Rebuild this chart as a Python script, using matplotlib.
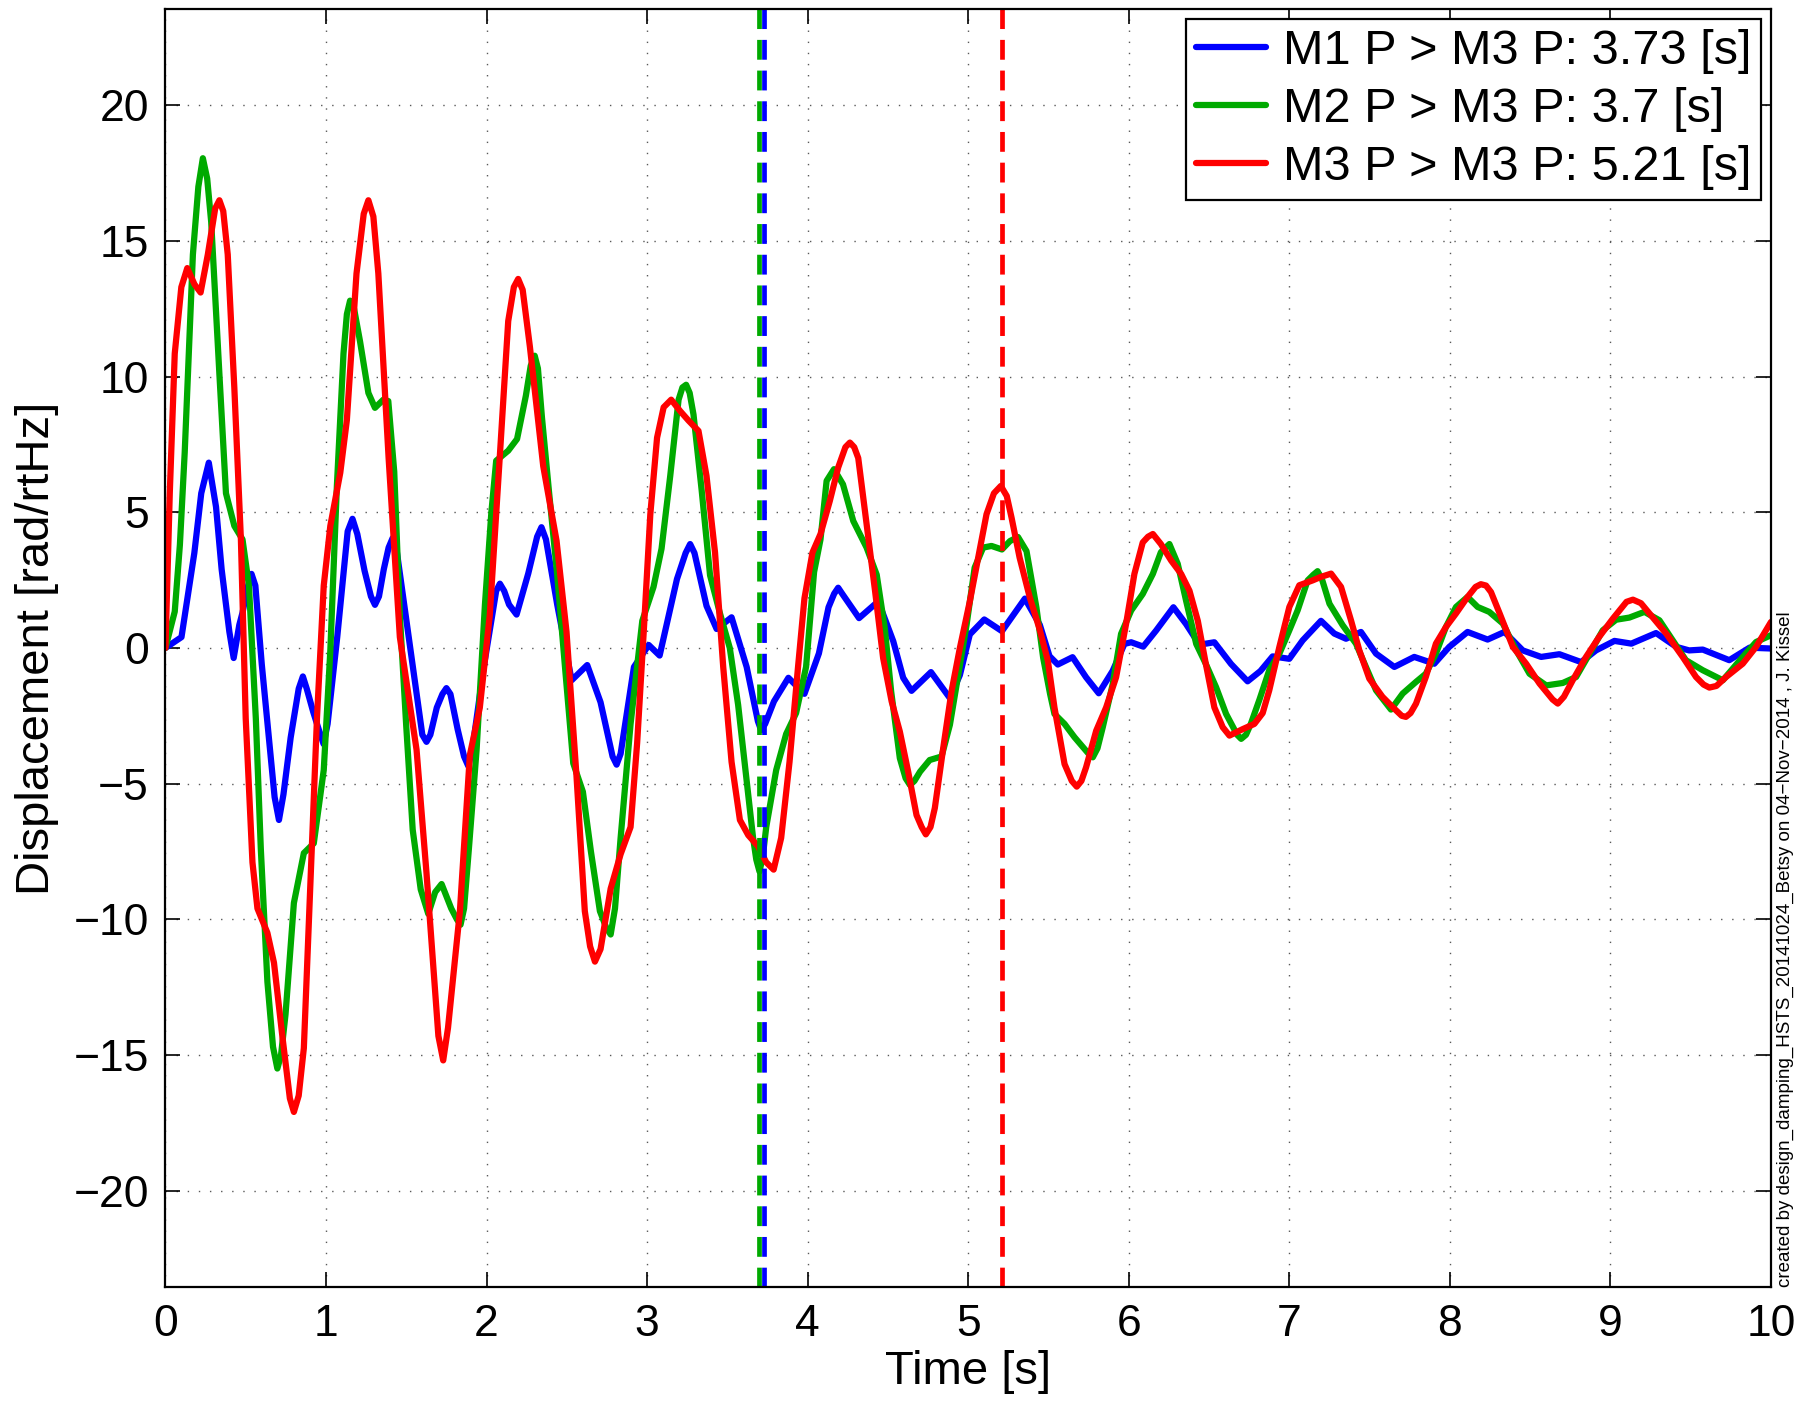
import matplotlib
matplotlib.use('Agg')
import matplotlib.pyplot as plt

plt.rcParams['font.family'] = ['Liberation Sans', 'DejaVu Sans']

OUTPUT_FILE = 'out.png'

# M1 P > M3 P  (blue)
T_M1 = [0, 0.1, 0.18, 0.223, 0.27, 0.315, 0.35, 0.398, 0.425, 0.46, 0.48, 0.51, 0.536, 0.56,
        0.6, 0.68, 0.707, 0.735, 0.78, 0.83, 0.856, 0.88, 0.92, 0.96, 0.985, 1.01, 1.07,
        1.135, 1.165, 1.195, 1.24, 1.28, 1.305, 1.33, 1.36, 1.39, 1.415, 1.44, 1.52, 1.6,
        1.626, 1.65, 1.69, 1.725, 1.75, 1.775, 1.82, 1.86, 1.886, 1.91, 1.98, 2.06, 2.083,
        2.11, 2.14, 2.187, 2.26, 2.315, 2.342, 2.37, 2.44, 2.53, 2.627, 2.71, 2.785, 2.81,
        2.835, 2.918, 3.01, 3.078, 3.186, 3.24, 3.268, 3.295, 3.37, 3.433, 3.526, 3.62,
        3.69, 3.71, 3.735, 3.79, 3.88, 3.98, 4.07, 4.13, 4.165, 4.19, 4.215, 4.32, 4.44,
        4.533, 4.595, 4.647, 4.768, 4.886, 4.948, 5.01, 5.1, 5.21, 5.353, 5.446, 5.506,
        5.558, 5.65, 5.734, 5.813, 5.9, 5.973, 6.015, 6.09, 6.17, 6.278, 6.357, 6.44, 6.533,
        6.637, 6.74, 6.82, 6.896, 7.0, 7.083, 7.197, 7.28, 7.353, 7.446, 7.54, 7.654, 7.778,
        7.903, 7.996, 8.11, 8.235, 8.34, 8.454, 8.568, 8.682, 8.817, 8.91, 9.025, 9.13,
        9.284, 9.41, 9.49, 9.575, 9.74, 9.866, 10.0]
DISP_M1 = [0, 0.4, 3.5, 5.7, 6.83, 5.2, 2.9, 0.6, -0.37, 0.85, 1.3, 2.2, 2.73, 2.3,
           -0.6, -5.5, -6.34, -5.4, -3.3, -1.5, -1.05, -1.5, -2.35, -3.1, -3.54, -2.8, 0.4,
           4.3, 4.76, 4.2, 2.85, 1.9, 1.59, 1.9, 2.9, 3.7, 4.05, 3.6, 0.2, -3.2,
           -3.46, -3.2, -2.2, -1.7, -1.48, -1.7, -3.0, -4.0, -4.35, -3.8, -0.8, 2.1, 2.37,
           2.1, 1.6, 1.23, 2.75, 4.1, 4.45, 4.0, 1.6, -1.19, -0.63, -2.0, -4.0, -4.3,
           -3.9, -0.7, 0.11, -0.28, 2.54, 3.5, 3.83, 3.5, 1.55, 0.7, 1.13, -0.7,
           -2.7, -3.03, -2.8, -1.97, -1.1, -1.69, -0.2, 1.5, 2.0, 2.22, 2.0, 1.1, 1.72,
           0.25, -1.1, -1.58, -0.89, -1.85, -1.0, 0.5, 1.05, 0.62, 1.82, 0.85, -0.3,
           -0.61, -0.34, -1.08, -1.67, -0.84, 0.15, 0.21, 0.05, 0.64, 1.5, 0.88, 0.12, 0.21,
           -0.59, -1.23, -0.85, -0.31, -0.4, 0.28, 1.0, 0.53, 0.34, 0.59, -0.21, -0.7, -0.33,
           -0.58, 0.04, 0.59, 0.31, 0.59, -0.09, -0.33, -0.23, -0.52, -0.09, 0.26, 0.16,
           0.55, 0.04, -0.09, -0.06, -0.45, 0.01, -0.02]

# M2 P > M3 P  (green)
T_M2 = [0, 0.058, 0.09, 0.12, 0.171, 0.205, 0.233, 0.26, 0.285, 0.336, 0.377, 0.429, 0.48,
        0.52, 0.563, 0.594, 0.635, 0.67, 0.697, 0.72, 0.748, 0.8, 0.862, 0.924, 0.986, 1.027,
        1.068, 1.109, 1.13, 1.15, 1.175, 1.212, 1.264, 1.305, 1.357, 1.388, 1.425, 1.46,
        1.5, 1.54, 1.59, 1.637, 1.68, 1.72, 1.78, 1.815, 1.838, 1.86, 1.89, 1.938, 1.99,
        2.03, 2.06, 2.135, 2.19, 2.245, 2.275, 2.3, 2.32, 2.345, 2.39, 2.44, 2.49, 2.54,
        2.6, 2.65, 2.706, 2.745, 2.773, 2.8, 2.835, 2.897, 2.97, 3.04, 3.09, 3.144, 3.196,
        3.22, 3.243, 3.265, 3.289, 3.34, 3.392, 3.454, 3.515, 3.567, 3.62, 3.66, 3.68, 3.7,
        3.72, 3.742, 3.804, 3.866, 3.928, 3.99, 4.04, 4.08, 4.118, 4.164, 4.22, 4.284,
        4.367, 4.43, 4.48, 4.52, 4.574, 4.61, 4.637, 4.665, 4.7, 4.76, 4.834, 4.886, 4.938,
        4.99, 5.04, 5.093, 5.145, 5.21, 5.26, 5.31, 5.363, 5.425, 5.467, 5.51, 5.537, 5.6,
        5.662, 5.75, 5.776, 5.805, 5.838, 5.9, 5.952, 6.015, 6.087, 6.15, 6.2, 6.253, 6.305,
        6.357, 6.42, 6.48, 6.544, 6.606, 6.675, 6.7, 6.73, 6.76, 6.814, 6.876, 6.938, 7.0,
        7.052, 7.114, 7.15, 7.176, 7.205, 7.25, 7.332, 7.415, 7.477, 7.54, 7.633, 7.706,
        7.789, 7.85, 7.913, 7.975, 8.038, 8.11, 8.173, 8.245, 8.33, 8.413, 8.496, 8.6,
        8.703, 8.786, 8.87, 8.952, 9.035, 9.118, 9.212, 9.305, 9.388, 9.47, 9.575, 9.7,
        9.824, 9.907, 10.0]
DISP_M2 = [0, 1.34, 3.8, 7.2, 14.5, 17.0, 18.05, 17.3, 15.7, 10.1, 5.7, 4.5, 4.0,
           2.3, -2.6, -7.4, -12.3, -14.7, -15.5, -15.0, -13.5, -9.4, -7.56, -7.2, -4.5, -0.1,
           6.0, 10.85, 12.3, 12.8, 12.5, 11.3, 9.4, 8.85, 9.15, 9.1, 6.5, 1.2,
           -2.9, -6.7, -8.9, -9.8, -9.0, -8.7, -9.6, -10.0, -10.2, -9.6, -7.4, -3.75, 1.6,
           5.0, 6.9, 7.27, 7.7, 9.3, 10.4, 10.77, 10.3, 8.5, 5.7, 2.7, -0.8, -4.25,
           -5.3, -7.5, -9.7, -10.3, -10.56, -9.6, -7.0, -2.8, 1.0, 2.25, 3.66, 6.34, 9.15,
           9.6, 9.7, 9.4, 8.6, 5.8, 2.68, 1.27, 0.0, -2.1, -4.9, -7.0, -7.8, -8.24,
           -7.7, -6.6, -4.5, -3.17, -2.4, -0.7, 2.8, 4.0, 6.16, 6.59, 6.03, 4.68,
           3.7, 2.7, 0.74, -1.6, -4.06, -4.8, -5.05, -4.9, -4.56, -4.13, -4.0, -2.83, -0.98,
           0.86, 2.96, 3.7, 3.76, 3.63, 3.94, 4.09, 3.57, 1.48, -0.37, -1.7, -2.43, -2.8,
           -3.29, -3.9, -4.03, -3.7, -2.92, -1.33, 0.52, 1.38, 1.99, 2.73, 3.53, 3.83, 3.1,
           1.74, 0.15, -0.59, -1.45, -2.43, -3.2, -3.35, -3.2, -2.8, -1.9, -0.8, -0.21, 0.65,
           1.39, 2.49, 2.7, 2.83, 2.5, 1.63, 0.84, 0.16, -0.7, -1.56, -2.27, -1.68,
           -1.25, -0.95, -0.21, 0.77, 1.51, 1.88, 1.51, 1.33, 0.9, -0.09, -0.95, -1.38,
           -1.29, -1.07, -0.21, 0.65, 1.04, 1.12, 1.33, 1.02, 0.28, -0.45, -0.82, -1.19,
           -0.33, 0.22, 0.47]

# M3 P > M3 P  (red)
T_M3 = [0, 0.027, 0.058, 0.099, 0.136, 0.181, 0.219, 0.264, 0.31, 0.336, 0.36, 0.388, 0.429,
        0.47, 0.5, 0.542, 0.573, 0.635, 0.676, 0.728, 0.775, 0.8, 0.83, 0.862, 0.903, 0.944,
        0.986, 1.027, 1.089, 1.13, 1.19, 1.235, 1.264, 1.295, 1.326, 1.39, 1.46, 1.5, 1.564,
        1.626, 1.7, 1.73, 1.76, 1.834, 1.896, 1.958, 2.02, 2.083, 2.135, 2.17, 2.197, 2.225,
        2.27, 2.353, 2.436, 2.498, 2.56, 2.612, 2.645, 2.675, 2.71, 2.773, 2.835, 2.897,
        2.938, 2.98, 3.02, 3.062, 3.103, 3.15, 3.206, 3.258, 3.32, 3.37, 3.423, 3.474,
        3.526, 3.578, 3.63, 3.69, 3.742, 3.788, 3.835, 3.887, 3.94, 3.98, 4.03, 4.08, 4.138,
        4.19, 4.235, 4.263, 4.29, 4.315, 4.367, 4.42, 4.47, 4.523, 4.574, 4.626, 4.678, 4.71,
        4.736, 4.765, 4.792, 4.844, 4.896, 4.948, 5.01, 5.062, 5.114, 5.16, 5.203, 5.24,
        5.27, 5.32, 5.384, 5.444, 5.496, 5.537, 5.6, 5.645, 5.676, 5.705, 5.734, 5.797,
        5.859, 5.921, 5.983, 6.035, 6.087, 6.12, 6.15, 6.2, 6.264, 6.326, 6.378, 6.43, 6.48,
        6.533, 6.585, 6.627, 6.71, 6.782, 6.834, 6.875, 6.938, 7.0, 7.062, 7.145, 7.197,
        7.26, 7.322, 7.384, 7.436, 7.498, 7.58, 7.654, 7.7, 7.726, 7.755, 7.789, 7.85,
        7.913, 7.975, 8.038, 8.11, 8.16, 8.193, 8.225, 8.256, 8.31, 8.392, 8.475, 8.558,
        8.64, 8.672, 8.71, 8.765, 8.848, 8.93, 9.015, 9.1, 9.14, 9.19, 9.243, 9.347, 9.45,
        9.533, 9.58, 9.616, 9.66, 9.72, 9.824, 9.907, 10.0]
DISP_M3 = [0, 5.7, 10.85, 13.3, 14.0, 13.4, 13.1, 14.5, 16.2, 16.5, 16.1, 14.5, 9.6,
           4.0, -2.6, -7.9, -9.6, -10.5, -11.6, -14.3, -16.6, -17.1, -16.5, -14.75, -8.66,
           -2.56, 2.3, 4.5, 6.46, 8.4, 13.8, 16.0, 16.5, 15.9, 13.8, 7.0, 0.4, -1.2, -3.75,
           -8.3, -14.3, -15.2, -14.0, -9.7, -3.95, -2.2, 1.2, 7.1, 12.05, 13.3, 13.6, 13.2,
           11.1, 6.7, 3.95, 0.6, -4.7, -9.7, -11.0, -11.56, -11.1, -8.87, -7.6, -6.6,
           -3.5, 0.7, 4.93, 7.75, 8.87, 9.15, 8.73, 8.38, 8.0, 6.34, 3.52, -0.7,
           -4.2, -6.34, -6.9, -7.3, -7.9, -8.17, -7.0, -4.2, -0.7, 1.83, 3.52, 4.2, 5.42,
           6.65, 7.4, 7.57, 7.4, 7.0, 4.56, 2.09, -0.37, -1.97, -3.08, -4.56, -6.16, -6.6,
           -6.87, -6.6, -5.9, -3.7, -1.6, 0.0, 1.72, 3.33, 4.93, 5.7, 5.97, 5.6,
           4.8, 3.33, 1.85, 0.7, -0.47, -2.19, -4.28, -4.9, -5.11, -4.9, -4.4, -3.05,
           -2.19, -1.08, 0.88, 2.73, 3.89, 4.1, 4.2, 3.83, 3.22, 2.73, 2.11, 1.0, -0.59,
           -2.19, -2.92, -3.23, -2.99, -2.8, -2.4, -1.56, 0.04, 1.51, 2.31, 2.49, 2.62,
           2.74, 2.25, 1.02, -0.09, -1.13, -1.8, -2.24, -2.5, -2.54, -2.4, -2.05, -1.07,
           0.16, 0.77, 1.27, 1.88, 2.25, 2.35, 2.3, 2.06, 1.27, 0.04, -0.58, -1.31,
           -1.9, -2.05, -1.8, -1.19, -0.33, 0.41, 1.08, 1.7, 1.78, 1.65, 1.27, 0.53, -0.33,
           -1.07, -1.35, -1.46, -1.4, -1.07, -0.58, 0.04, 0.96]

SERIES_LABELS = ['M1 P > M3 P: 3.73 [s]', 'M2 P > M3 P: 3.7 [s]', 'M3 P > M3 P: 5.21 [s]']
DECAY_TIMES = [3.73, 3.70, 5.21]
COLORS = ['#0000ff', '#00aa00', '#ff0000']

X_TICKS = list(range(0, 11))
Y_TICKS = [-20, -15, -10, -5, 0, 5, 10, 15, 20]

CREDIT = 'created by design_damping_HSTS_20141024_Betsy on 04\u2212Nov\u22122014 , J. Kissel'


def make_plot():
    fig = plt.figure(figsize=(18.14, 14.01), dpi=100)
    ax = fig.add_axes([0.0912, 0.0814, 0.8851, 0.9122])

    series = [(T_M1, DISP_M1), (T_M2, DISP_M2), (T_M3, DISP_M3)]
    for (t, d), color, label in zip(series, COLORS, SERIES_LABELS):
        ax.plot(t, d, color=color, linewidth=4.5, label=label,
                solid_joinstyle='round', solid_capstyle='round')

    # settling-time markers, green sits just left of blue
    for tm, color in zip(DECAY_TIMES, COLORS):
        ax.axvline(tm, color=color, linewidth=3.4, linestyle=(0, (4.2, 2.3)))

    ax.set_xlim(0, 10)
    ax.set_ylim(-23.55, 23.55)
    ax.set_xticks(X_TICKS)
    ax.set_yticks(Y_TICKS)
    ax.tick_params(direction='in', length=11, width=1.2, labelsize=32,
                   top=True, right=True, pad=12)
    ax.grid(True, color='0.35', linestyle=(0, (1, 7)), linewidth=1.0)
    for sp in ax.spines.values():
        sp.set_linewidth(1.6)

    ax.set_xlabel('Time [s]', fontsize=34, labelpad=4)
    ax.set_ylabel('Displacement [rad/rtHz]', fontsize=34, labelpad=10)

    leg = ax.legend(loc='upper right', bbox_to_anchor=(0.994, 0.992), fontsize=35,
                    fancybox=False, framealpha=1, edgecolor='black',
                    handlelength=1.45, handletextpad=0.35, labelspacing=0.27,
                    borderpad=0.2, borderaxespad=0)
    leg.get_frame().set_linewidth(1.6)

    fig.text(0.9843, 0.0814, CREDIT, rotation=90, fontsize=13.5,
             ha='center', va='bottom')

    fig.savefig(OUTPUT_FILE, dpi=100)
    plt.close(fig)


if __name__ == '__main__':
    make_plot()
